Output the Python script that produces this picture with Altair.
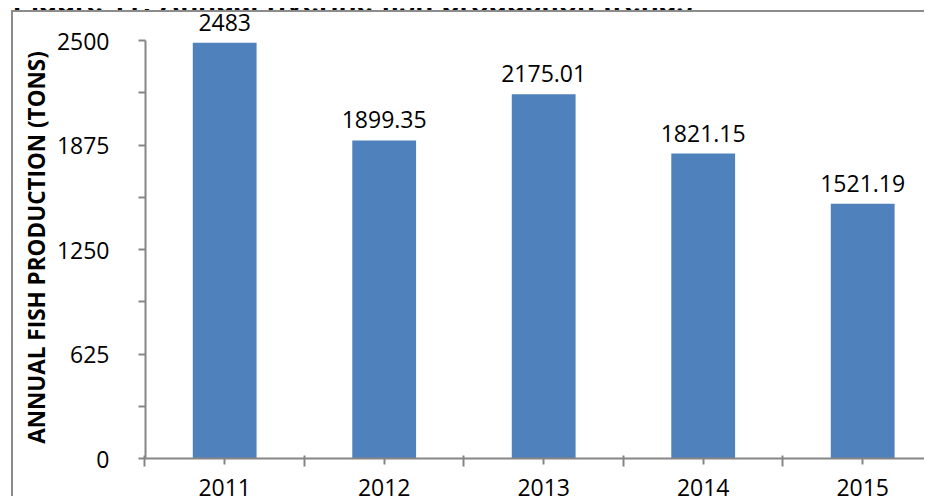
import altair as alt
import pandas as pd

# ---- data ----
years = ["2011", "2012", "2013", "2014", "2015"]
production = [2483, 1899.35, 2175.01, 1821.15, 1521.19]
bar_labels = ["2483", "1899.35", "2175.01", "1821.15", "1521.19"]
y_tick_values = [0, 312.5, 625, 937.5, 1250, 1562.5, 1875, 2187.5, 2500]
figure_title = "Figure 11: Annual riverine fish production trends"
y_title = "ANNUAL FISH PRODUCTION (TONS)"

df = pd.DataFrame({"year": years, "value": production, "label": bar_labels})
one = pd.DataFrame({"k": [0]})

GRAY = "#868686"
BLUE = "#4F81BD"
FONT = "Open Sans"

xscale = alt.Scale(paddingInner=0.6, paddingOuter=0.242, align=0.619)
yscale = alt.Scale(domain=[0, 2500], nice=False, zero=True)

# figure caption, partly hidden behind the chart area (as in the cropped original)
title = alt.Chart(one).mark_text(text=figure_title, font="Liberation Sans",
                                 fontWeight="bold", fontSize=29.4, align="left",
                                 baseline="alphabetic", color="black").encode(
    x=alt.value(-132), y=alt.value(-27)
)
chart_area = alt.Chart(one).mark_rect(color="white").encode(
    x=alt.value(-133), x2=alt.value(2000), y=alt.value(-30), y2=alt.value(700)
)
frame_top = alt.Chart(one).mark_rule(color="#8c8c8c", strokeWidth=2).encode(
    x=alt.value(-134), x2=alt.value(2000), y=alt.value(-29)
)
frame_left = alt.Chart(one).mark_rule(color="#8c8c8c", strokeWidth=2).encode(
    x=alt.value(-133), y=alt.value(-30), y2=alt.value(700)
)

bars = alt.Chart(df).mark_bar(color=BLUE).encode(
    x=alt.X("year:N", scale=xscale, sort=years,
            axis=alt.Axis(title=None, orient="bottom", labelAngle=0, labelFont=FONT,
                          labelFontSize=23, labelColor="black", labelPadding=13,
                          tickSize=6, tickWidth=2, tickColor=GRAY,
                          domainColor=GRAY, domainWidth=2, grid=False, zindex=1)),
    y=alt.Y("value:Q", scale=yscale,
            axis=alt.Axis(values=y_tick_values, format="d",
                          labelExpr="datum.value % 625 == 0 ? datum.label : ''",
                          labelOverlap=False, labelFont=FONT, labelFontSize=23,
                          labelColor="black", labelPadding=29, labelOffset=2,
                          tickSize=7, tickWidth=2, tickColor=GRAY,
                          domainColor=GRAY, domainWidth=2, grid=False,
                          title=y_title, titleFont=FONT, titleFontSize=22.5,
                          titleFontWeight="bold", titleColor="black", titleAngle=270,
                          titleAlign="center", titleBaseline="middle",
                          titleX=-108, titleY=207, zindex=1)),
)

texts = alt.Chart(df).mark_text(dy=-12, baseline="alphabetic", font=FONT,
                                fontSize=23, color="black").encode(
    x=alt.X("year:N", scale=xscale, sort=years, axis=None),
    y=alt.Y("value:Q", scale=yscale, axis=None),
    text="label:N",
)

boundary = alt.Chart(df).mark_bar(opacity=0).encode(
    x=alt.X("year:N", scale=xscale, sort=years,
            axis=alt.Axis(title=None, orient="bottom", bandPosition=-0.75, labels=False,
                          domain=False, tickSize=11, tickWidth=2, tickColor=GRAY,
                          offset=-3, grid=False, zindex=1)),
    y=alt.Y("value:Q", scale=yscale, axis=None),
)

chart = alt.layer(title, chart_area, frame_top, frame_left, bars, texts, boundary).resolve_axis(
    x="independent", y="independent"
).properties(
    width=779, height=418,
    autosize=alt.AutoSizeParams(type="none"),
    padding={"left": 137, "top": 32, "right": 0, "bottom": 38},
    background="white",
).configure_view(stroke=None, strokeWidth=0)

chart.save("out.html", embed_options={"renderer": "svg", "actions": False})
